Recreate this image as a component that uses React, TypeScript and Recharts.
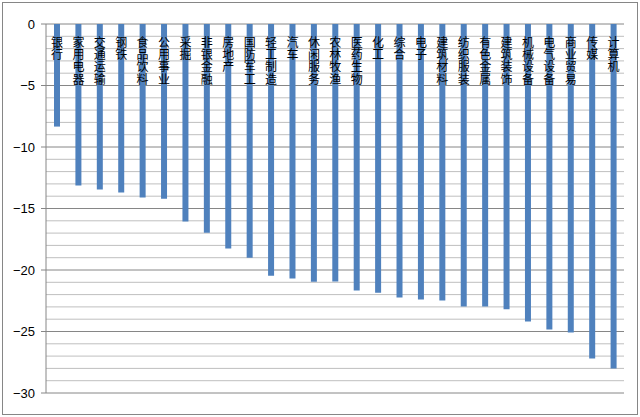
import React from 'react';
import { BarChart, Bar, XAxis, YAxis, CartesianGrid, LabelList } from 'recharts';

const categories = [
  '银行', '家用电器', '交通运输', '钢铁', '食品饮料', '公用事业', '采掘', '非银金融', '房地产',
  '国防军工', '轻工制造', '汽车', '休闲服务', '农林牧渔', '医药生物', '化工', '综合', '电子',
  '建筑材料', '纺织服装', '有色金属', '建筑装饰', '机械设备', '电气设备', '商业贸易', '传媒', '计算机',
];

const values = [
  -8.34, -13.14, -13.46, -13.7, -14.1, -14.2, -16.06, -16.98, -18.25,
  -19.0, -20.47, -20.7, -20.96, -20.93, -21.66, -21.85, -22.23, -22.4,
  -22.48, -22.97, -22.97, -23.2, -24.18, -24.83, -25.08, -27.19, -28.0,
];

const yTicks = [
  -30, -29, -28, -27, -26, -25, -24, -23, -22, -21, -20, -19, -18, -17, -16, -15,
  -14, -13, -12, -11, -10, -9, -8, -7, -6, -5, -4, -3, -2, -1, 0,
];
const MAJOR_STEP = 5;

const data = categories.map((name, i) => ({ name, value: values[i] }));

const LABEL_FIRST_CENTER = 41;
const CHAR_STEP = 12.4;

const VerticalLabel = (props: any) => {
  const { x, width, value } = props;
  const cx = Number(x) + Number(width) / 2;
  const chars = String(value).split('');
  return (
    <g>
      {chars.map((c: string, i: number) => (
        <text
          key={i}
          x={cx}
          y={LABEL_FIRST_CENTER + i * CHAR_STEP}
          textAnchor="middle"
          dominantBaseline="central"
          fontSize={12}
          fontFamily="'Noto Sans CJK SC', sans-serif"
          fill="#000"
        >
          {c}
        </text>
      ))}
    </g>
  );
};

const YTick = (props: any) => {
  const { x, y, payload } = props;
  const v = Number(payload.value);
  if (v % MAJOR_STEP !== 0) return <g />;
  const label = v < 0 ? '\u2212' + Math.abs(v) : String(v);
  return (
    <g>
      <line x1={x - 5} y1={y} x2={x} y2={y} stroke="#868686" />
      <text
        x={x - 11}
        y={y}
        textAnchor="end"
        dominantBaseline="central"
        fontSize={13}
        fontFamily="'Liberation Sans', Arial, sans-serif"
        fill="#000"
      >
        {label}
      </text>
    </g>
  );
};

const GridLine = (props: any) => {
  const { x1, y1, x2, y2, index } = props;
  const major = index % MAJOR_STEP === 0;
  return (
    <line
      key={`g-${index}`}
      x1={x1}
      y1={y1}
      x2={x2}
      y2={y2}
      stroke={major ? '#868686' : '#BFBFBF'}
      strokeWidth={1}
    />
  );
};

export default function App() {
  return (
    <div style={{ position: 'absolute', left: 0, top: 0, width: 640, height: 417, background: '#fff' }}>
      <div
        style={{
          position: 'absolute',
          left: 2,
          top: 2,
          width: 634,
          height: 411,
          border: '1px solid #868686',
        }}
      />
      <div style={{ position: 'absolute', left: 0, top: 0 }}>
        <BarChart
          width={640}
          height={417}
          data={data}
          margin={{ top: 23, right: 16, bottom: 24, left: 0 }}
          barCategoryGap={0}
        >
          <CartesianGrid vertical={false} horizontal={GridLine as any} />
          <XAxis
            dataKey="name"
            orientation="top"
            height={1}
            axisLine={false}
            tickLine={false}
            interval={0}
            tick={false}
          />
          <YAxis
            domain={[-30, 0]}
            ticks={yTicks}
            type="number"
            width={46}
            tickSize={0}
            tickMargin={0}
            interval={0}
            axisLine={{ stroke: '#868686' }}
            tickLine={false}
            tick={<YTick />}
          />
          <Bar dataKey="value" fill="#4F81BD" barSize={6} isAnimationActive={false}>
            <LabelList dataKey="name" content={<VerticalLabel />} />
          </Bar>
        </BarChart>
      </div>
    </div>
  );
}
